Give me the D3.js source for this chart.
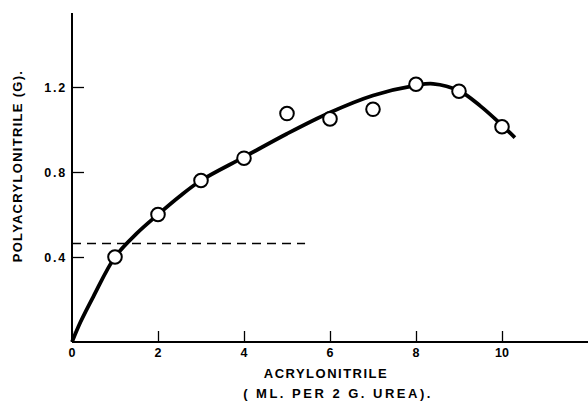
<!DOCTYPE html>
<html><head><meta charset="utf-8">
<script src="https://cdn.jsdelivr.net/npm/d3@7"></script>
<style>body{margin:0;background:#fff}svg text{font-family:"Liberation Sans",Arial,sans-serif;font-weight:bold;fill:#000}</style>
</head><body>
<svg id="c" width="588" height="404"></svg>
<script>
// observed data points (ml acrylonitrile per 2 g urea -> g polyacrylonitrile)
const pointX = [1, 2, 3, 4, 5, 6, 7, 8, 9, 10];
const pointY = [0.40, 0.60, 0.76, 0.865, 1.075, 1.05, 1.095, 1.213, 1.18, 1.013];
// hand-drawn fitted curve
const curveX = [0, 0.2, 0.5, 1, 1.5, 2, 2.5, 3, 4, 5, 6, 7, 8, 8.4, 9, 9.5, 10, 10.3];
const curveY = [0, 0.095, 0.215, 0.40, 0.51, 0.60, 0.685, 0.76, 0.87, 0.98, 1.08, 1.16, 1.208, 1.215, 1.182, 1.11, 1.02, 0.962];
// dashed reference line
const dashY = 0.464;
const dashXEnd = 5.42;
const xTicks = [0, 2, 4, 6, 8, 10];
const yTicks = [0.4, 0.8, 1.2];
const yTickLabels = ["0.4", "0.8", "1.2"];

const svg = d3.select("#c");
const x = d3.scaleLinear().domain([0, 10]).range([72, 502]);
const y = d3.scaleLinear().domain([0, 1.2]).range([342, 87]);

// axes lines
svg.append("line").attr("x1", x(0)).attr("x2", 588).attr("y1", y(0)).attr("y2", y(0))
  .attr("stroke", "#000").attr("stroke-width", 2);
svg.append("line").attr("x1", x(0)).attr("x2", x(0)).attr("y1", 13).attr("y2", y(0))
  .attr("stroke", "#000").attr("stroke-width", 2);

// x ticks (pointing up) and labels
const xAxis = d3.axisTop(x).tickValues(xTicks).tickSize(11).tickFormat("");
svg.append("g").attr("transform", `translate(0,${y(0)})`).call(xAxis)
  .call(g => g.select(".domain").remove())
  .call(g => g.selectAll(".tick line").attr("stroke-width", 1.3));
svg.selectAll(".xl").data(xTicks).join("text").attr("class", "xl")
  .attr("x", d => x(d)).attr("y", 357).attr("text-anchor", "middle")
  .attr("font-size", 12.5).text(d => d);

// y ticks (pointing right) and labels
const yAxis = d3.axisRight(y).tickValues(yTicks).tickSize(12).tickFormat("");
svg.append("g").attr("transform", `translate(${x(0)},0)`).call(yAxis)
  .call(g => g.select(".domain").remove())
  .call(g => g.selectAll(".tick line").attr("stroke-width", 1.3));
svg.selectAll(".yl").data(yTicks).join("text").attr("class", "yl")
  .attr("x", 67).attr("y", d => y(d) + 4.5).attr("text-anchor", "end")
  .attr("font-size", 12.5).attr("letter-spacing", 1.8).text((d, i) => yTickLabels[i]);

// axis titles
svg.append("text").attr("x", 326).attr("y", 378).attr("text-anchor", "middle")
  .attr("font-size", 13).attr("letter-spacing", 1.5).text("ACRYLONITRILE");
svg.append("text").attr("x", 338).attr("y", 398).attr("text-anchor", "middle")
  .attr("font-size", 13).attr("letter-spacing", 2.5).text("( ML. PER  2 G. UREA).");
svg.append("text").attr("transform", "translate(22,166) rotate(-90)").attr("text-anchor", "middle")
  .attr("font-size", 13).attr("letter-spacing", 1.3).text("POLYACRYLONITRILE  (G).");

// dashed line
svg.append("line").attr("x1", x(0)).attr("x2", x(dashXEnd)).attr("y1", y(dashY)).attr("y2", y(dashY))
  .attr("stroke", "#000").attr("stroke-width", 1.5).attr("stroke-dasharray", "9,6");

// fitted curve
const line = d3.line().x(d => x(d[0])).y(d => y(d[1])).curve(d3.curveCatmullRom.alpha(0.5));
svg.append("path").datum(curveX.map((v, i) => [v, curveY[i]])).attr("d", line)
  .attr("fill", "none").attr("stroke", "#000").attr("stroke-width", 3.8);

// data points
svg.selectAll(".pt").data(pointX.map((v, i) => [v, pointY[i]])).join("circle").attr("class", "pt")
  .attr("cx", d => x(d[0])).attr("cy", d => y(d[1])).attr("r", 6.8)
  .attr("fill", "#fff").attr("stroke", "#000").attr("stroke-width", 2);
</script>
</body></html>
